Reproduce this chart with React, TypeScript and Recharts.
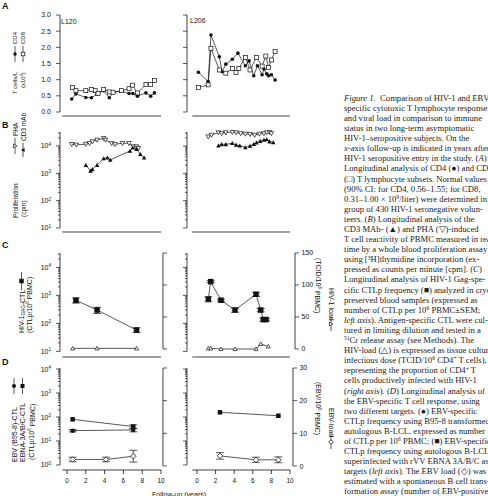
import React from 'react'
import { ComposedChart, Scatter, XAxis, YAxis, ErrorBar, ReferenceLine } from 'recharts'

// Follow-up in years after seropositive entry, two subjects (L120, L206)

// (A) T cell subsets, x10^9 cells/L
const L120_CD4_YEARS = [0.5, 0.95, 2.0, 2.6, 3.2, 3.9, 4.5, 4.9, 5.8, 6.6, 7.0, 7.5, 8.4, 8.9, 9.3]
const L120_CD4 = [0.4, 0.56, 0.45, 0.44, 0.55, 0.66, 0.44, 0.6, 0.65, 0.57, 0.57, 0.49, 0.59, 0.49, 0.59]
const L120_CD8_YEARS = [0.6, 0.95, 2.0, 2.6, 3.0, 3.3, 3.9, 4.5, 4.9, 5.8, 6.6, 6.95, 7.5, 8.4, 8.9, 9.3]
const L120_CD8 = [0.76, 0.66, 0.66, 0.7, 0.66, 0.57, 0.7, 0.62, 0.61, 0.66, 0.72, 0.83, 0.59, 0.85, 0.85, 0.97]
const L206_CD4_YEARS = [0.15, 1.2, 1.5, 2.4, 2.7, 3.1, 3.8, 4.4, 5.2, 5.6, 6.1, 6.5, 7.0, 7.2, 7.5, 7.7, 8.0, 8.4]
const L206_CD4 = [1.23, 0.94, 2.38, 1.71, 1.25, 1.48, 1.63, 1.82, 1.43, 1.58, 1.12, 1.43, 1.15, 1.33, 1.18, 1.12, 1.15, 0.99]
const L206_CD8_YEARS = [0.15, 1.2, 1.5, 2.4, 3.1, 3.8, 4.2, 4.5, 5.2, 5.7, 6.4, 7.0, 7.4, 7.7, 8.0, 8.4]
const L206_CD8 = [0.76, 0.84, 1.97, 1.3, 1.2, 1.35, 1.22, 1.35, 1.69, 1.3, 1.69, 1.42, 1.73, 1.38, 1.61, 1.87]

// (B) whole blood proliferation, cpm
const L120_PHA_YEARS = [0.5, 1.0, 2.0, 2.4, 2.7, 3.2, 3.9, 4.1, 4.75, 5.1, 5.9, 6.6, 7.05, 7.4, 7.6]
const L120_PHA = [11500, 11000, 11700, 12600, 14500, 16600, 19000, 16600, 12600, 11500, 12600, 12600, 9500, 9500, 8300]
const L120_CD3_YEARS = [2.0, 2.5, 2.7, 3.2, 3.9, 4.3, 4.6, 6.7, 7.0, 7.4, 7.8, 8.2]
const L120_CD3 = [2000, 1230, 1400, 2000, 3500, 3700, 3100, 6600, 8700, 7600, 5000, 3700]
const L206_PHA_YEARS = [1.2, 1.56, 2.3, 2.65, 3.1, 3.8, 4.2, 4.7, 5.2, 5.7, 6.2, 6.7, 7.2, 7.5, 7.8, 8.0]
const L206_PHA = [21900, 25100, 31000, 28800, 31000, 32000, 30900, 28800, 27500, 26900, 25100, 27500, 28800, 31000, 32000, 28800]
const L206_CD3_YEARS = [2.3, 2.65, 3.1, 3.8, 4.2, 4.6, 5.2, 5.7, 6.1, 6.4, 6.8, 7.2, 7.5, 7.8, 8.2]
const L206_CD3 = [10200, 11500, 11500, 12600, 11000, 10200, 8900, 10000, 11700, 13200, 15100, 16600, 17400, 14500, 13500]

// (C) HIV-1 Gag CTLp per 10^6 PBMC (+-SEM) and HIV-1 load
const L120_GAG_YEARS = [0.95, 3.2, 7.4]
const L120_GAG = [670, 300, 58]
const L120_GAG_SEM = [140, 75, 11]
const L120_HIV_YEARS = [0.6, 3.2, 7.4]
const L120_HIV = [1, 1, 1]
const L206_GAG_YEARS = [1.22, 1.47, 2.58, 4.09, 6.35, 6.85, 7.13, 7.42]
const L206_GAG = [740, 3100, 670, 300, 1100, 300, 137, 137]
const L206_GAG_SEM = [150, 250, 60, 50, 180, 40, 20, 15]
const L206_HIV_YEARS = [1.22, 1.47, 2.58, 4.09, 6.35, 6.85, 7.67]
const L206_HIV = [1, 1, 0, 0, 0, 8, 4]

// (D) EBV-specific CTLp and EBV load
const L120_EBNA_YEARS = [0.6, 7.05]
const L120_EBNA = [80, 40]
const L120_EBNA_SEM = [0, 7]
const L120_B958_YEARS = [0.6, 7.05]
const L120_B958 = [27, 29]
const L120_B958_SEM = [3, 5]
const L120_EBV_YEARS = [0.6, 4.15, 7.05]
const L120_EBV = [2.0, 2.0, 3.0]
const L120_EBV_SEM = [0.7, 0.7, 1.8]
const L206_EBNA_YEARS = [2.47, 8.75]
const L206_EBNA = [157, 113]
const L206_EBV_YEARS = [2.47, 6.34, 8.75]
const L206_EBV = [3.1, 1.9, 1.9]
const L206_EBV_SEM = [1.0, 0.8, 0.9]

const YEAR_TICKS = [0, 2, 4, 6, 8, 10]
const CD_TICKS = [0, 0.5, 1, 1.5, 2, 2.5, 3]
const HIV_LOAD_TICKS = [0, 50, 100, 150]
const EBV_LOAD_TICKS = [0, 10, 20, 30]

const INK = '#111'
const SANS = '"Liberation Sans", Arial, sans-serif'
const SERIF = '"Liberation Serif", "Times New Roman", serif'

type Pt = { x: number; y: number; e: number }
type MarkKind = 'dot' | 'square' | 'openSquare' | 'triangle' | 'openTriangle' | 'openTriangleDown' | 'openDiamond'

interface Series {
  data: Pt[]
  mark: MarkKind
  size: number
  axis?: 'left' | 'right'
  err?: boolean
}

interface AxisSpec {
  domain: [number, number]
  ticks: number[]
  line: [number, number]
  log?: boolean
  labels?: boolean
  fmt?: (v: number) => string
}

function zip(xs: number[], ys: number[], es?: number[]): Pt[] {
  return xs.map((x, i) => ({ x, y: ys[i], e: es ? es[i] : 0 }))
}

// decades plus 2..9 minor ticks between lo and hi
function logTicks(lo: number, hi: number): number[] {
  const out: number[] = []
  for (let k = Math.floor(Math.log10(lo)); k <= Math.ceil(Math.log10(hi)); k++) {
    for (let m = 1; m <= 9; m++) {
      const v = m * Math.pow(10, k)
      if (v >= lo * 0.999 && v <= hi) out.push(v)
    }
  }
  return out
}

function markShape(kind: MarkKind, s: number) {
  return (p: any) => {
    const { cx, cy } = p
    if (cx == null || cy == null) return <g />
    const h = s / 2
    switch (kind) {
      case 'dot':
        return <circle cx={cx} cy={cy} r={h} fill={INK} />
      case 'square':
        return <rect x={cx - h} y={cy - h} width={s} height={s} fill={INK} />
      case 'openSquare':
        return <rect x={cx - h} y={cy - h} width={s} height={s} fill="#fff" stroke={INK} strokeWidth={0.7} />
      case 'triangle':
        return <polygon points={`${cx},${cy - h} ${cx + h},${cy + h * 0.8} ${cx - h},${cy + h * 0.8}`} fill={INK} />
      case 'openTriangle':
        return (
          <polygon
            points={`${cx},${cy - h} ${cx + h},${cy + h * 0.8} ${cx - h},${cy + h * 0.8}`}
            fill="#fff"
            stroke={INK}
            strokeWidth={0.7}
          />
        )
      case 'openTriangleDown':
        return (
          <polygon
            points={`${cx},${cy + h} ${cx + h},${cy - h * 0.8} ${cx - h},${cy - h * 0.8}`}
            fill="#fff"
            stroke={INK}
            strokeWidth={0.7}
          />
        )
      case 'openDiamond':
        return (
          <polygon
            points={`${cx},${cy - h} ${cx + h},${cy} ${cx},${cy + h} ${cx - h},${cy}`}
            fill="#fff"
            stroke={INK}
            strokeWidth={0.8}
          />
        )
    }
  }
}

function AxisTick(props: any) {
  const { x, y, payload, side, spec } = props
  const v: number = payload.value
  const dir = side === 'left' ? -1 : 1
  const ax = x - dir * 6 // tickSize 4 + tickMargin 2
  const exp = Math.log10(v)
  const major = spec.log ? Math.abs(exp - Math.round(exp)) < 1e-6 : true
  const len = major ? 4 : 2
  let label: React.ReactNode = null
  if (spec.labels && major) {
    const tx = ax + dir * (side === 'left' ? 9 : 6.5)
    const content = spec.log ? (
      <>
        10
        <tspan dy={-2.6} fontSize={4.6}>
          {Math.round(exp)}
        </tspan>
      </>
    ) : spec.fmt ? (
      spec.fmt(v)
    ) : (
      String(v)
    )
    label = (
      <text x={tx} y={y + 2.5} textAnchor={side === 'left' ? 'end' : 'start'} fontSize={7} fill={INK} fontFamily={SANS}>
        {content}
      </text>
    )
  }
  return (
    <g>
      <line x1={ax} y1={y} x2={ax + dir * len} y2={y} stroke={INK} strokeWidth={0.7} />
      {label}
    </g>
  )
}

function renderSeries(s: Series, i: number) {
  return (
    <Scatter
      key={i}
      data={s.data}
      yAxisId={s.axis ?? 'left'}
      shape={markShape(s.mark, s.size)}
      line={{ stroke: INK, strokeWidth: 0.7 }}
      lineType="joint"
      isAnimationActive={false}
    >
      {s.err ? <ErrorBar dataKey="e" direction="y" width={4} stroke={INK} strokeWidth={0.7} /> : null}
    </Scatter>
  )
}

interface Column {
  plotLeft: number
  xMin: number
  ppy: number
  lw: number
  rw: number
}

const LEFT_COL: Column = { plotLeft: 60, xMin: -0.745, ppy: 9.4, lw: 30, rw: 8 }
const RIGHT_COL: Column = { plotLeft: 187, xMin: -1.075, ppy: 9.3, lw: 12, rw: 24 }

interface PanelProps {
  col: Column
  xMax: number
  top: number
  plotH: number
  xLabels?: boolean
  y: AxisSpec
  right?: AxisSpec
  series: Series[]
}

function Panel({ col, xMax, top, plotH, xLabels, y, right, series }: PanelProps) {
  const plotW = (xMax - col.xMin) * col.ppy
  const MT = 6
  const XH = 16
  const RW = right ? col.rw : 0
  const MR = right ? 0 : 8
  const axisStroke = { stroke: INK, strokeWidth: 0.8 }
  return (
    <div style={{ position: 'absolute', left: col.plotLeft - col.lw, top: top - MT }}>
      <ComposedChart
        width={col.lw + plotW + RW + MR}
        height={MT + plotH + XH}
        margin={{ top: MT, right: MR, bottom: 0, left: 0 }}
      >
        <XAxis
          type="number"
          dataKey="x"
          domain={[col.xMin, xMax]}
          ticks={YEAR_TICKS}
          interval={0}
          height={XH}
          axisLine={false}
          tickLine={axisStroke}
          tickSize={4}
          tickMargin={4}
          tick={xLabels ? { fontSize: 6.5, fill: INK, fontFamily: SANS } : false}
        />
        <YAxis
          yAxisId="left"
          type="number"
          dataKey="y"
          scale={y.log ? 'log' : 'linear'}
          domain={y.domain}
          ticks={y.ticks}
          interval={0}
          width={col.lw}
          axisLine={false}
          tickLine={false}
          tickSize={4}
          tickMargin={2}
          tick={(p: any) => <AxisTick {...p} side="left" spec={y} />}
        />
        {right && (
          <YAxis
            yAxisId="right"
            orientation="right"
            type="number"
            dataKey="y"
            domain={right.domain}
            ticks={right.ticks}
            interval={0}
            width={RW}
            axisLine={false}
            tickLine={false}
            tickSize={4}
            tickMargin={2}
            tick={(p: any) => <AxisTick {...p} side="right" spec={right} />}
          />
        )}
        {/* axis lines drawn separately so they stop short of each other */}
        <ReferenceLine
          yAxisId="left"
          segment={[
            { x: -0.5, y: y.domain[0] },
            { x: 10, y: y.domain[0] },
          ]}
          {...axisStroke}
          ifOverflow="visible"
        />
        <ReferenceLine
          yAxisId="left"
          segment={[
            { x: col.xMin, y: y.line[0] },
            { x: col.xMin, y: y.line[1] },
          ]}
          {...axisStroke}
          ifOverflow="visible"
        />
        {right && (
          <ReferenceLine
            yAxisId="right"
            segment={[
              { x: xMax, y: right.line[0] },
              { x: xMax, y: right.line[1] },
            ]}
            {...axisStroke}
            ifOverflow="visible"
          />
        )}
        {series.map(renderSeries)}
      </ComposedChart>
    </div>
  )
}

// axis specs per row
const A_AXIS = (labels: boolean): AxisSpec => ({
  domain: [-0.124, 3],
  ticks: CD_TICKS,
  line: [0, 3],
  labels,
  fmt: (v) => v.toFixed(1),
})
const B_AXIS = (labels: boolean): AxisSpec => ({
  domain: [7.14, 32500],
  ticks: logTicks(10, 32500),
  line: [10, 32500],
  log: true,
  labels,
})
const C_AXIS = (labels: boolean): AxisSpec => ({
  domain: [6.3, 32660],
  ticks: logTicks(10, 32660),
  line: [10, 32660],
  log: true,
  labels,
})
const C_RIGHT = (labels: boolean): AxisSpec => ({
  domain: [-12.5, 150],
  ticks: HIV_LOAD_TICKS,
  line: [0, 150],
  labels,
})
const D_AXIS = (labels: boolean): AxisSpec => ({
  domain: [0.619, 11015],
  ticks: logTicks(1, 11015),
  line: [1, 11015],
  log: true,
  labels,
})
const D_RIGHT = (labels: boolean): AxisSpec => ({
  domain: [-1.22, 30],
  ticks: EBV_LOAD_TICKS,
  line: [0, 30],
  labels,
})

function Rot({ x, y, angle, size = 7, anchor = 'start', children }: any) {
  return (
    <text
      x={x}
      y={y}
      transform={`rotate(${angle} ${x} ${y})`}
      textAnchor={anchor}
      dominantBaseline="central"
      fontSize={size}
      fill={INK}
      fontFamily={SANS}
    >
      {children}
    </text>
  )
}

// small legend sample: line with a marker, turned with the axis title
function Key({ x, y, len, angle, mark, size }: any) {
  return (
    <g transform={`rotate(${angle} ${x} ${y})`}>
      <line x1={x - len / 2} y1={y} x2={x + len / 2} y2={y} stroke={INK} strokeWidth={0.7} />
      {markShape(mark, size)({ cx: x, cy: y })}
    </g>
  )
}

function Sup({ children }: any) {
  return <tspan dy={-2.3} fontSize="0.65em">{children}</tspan>
}

function Annotations() {
  const letter = { fontSize: 9, fontWeight: 700, fontFamily: SANS, fill: INK }
  return (
    <svg width={488} height={496} style={{ position: 'absolute', left: 0, top: 0 }}>
      <text x={2} y={9} {...letter}>A</text>
      <text x={2} y={128} {...letter}>B</text>
      <text x={2} y={248} {...letter}>C</text>
      <text x={2} y={365} {...letter}>D</text>

      <text x={61} y={24} fontSize={7} fontFamily={SANS} fill={INK}>L120</text>
      <text x={190} y={23} fontSize={7} fontFamily={SANS} fill={INK}>L206</text>

      {/* A */}
      <Rot x={15} y={94} angle={-90} size={6}>T cells/L</Rot>
      <Rot x={23} y={88} angle={-90} size={6}>
        (x10<Sup>9</Sup>
        <tspan dy={2.3}>)</tspan>
      </Rot>
      <Key x={15} y={54} len={16} angle={-90} mark="dot" size={3.4} />
      <Key x={23} y={54} len={16} angle={-90} mark="openSquare" size={3.6} />
      <Rot x={15} y={44} angle={-90} size={6}>CD4</Rot>
      <Rot x={23} y={44} angle={-90} size={6}>CD8</Rot>

      {/* B */}
      <Rot x={15} y={218} angle={-90} size={6.5}>Proliferation</Rot>
      <Rot x={23} y={217} angle={-90} size={6.5}>(cpm)</Rot>
      <Key x={15} y={146} len={16} angle={-90} mark="openTriangleDown" size={4} />
      <Key x={23} y={150} len={14} angle={-90} mark="triangle" size={4} />
      <Rot x={15} y={136} angle={-90} size={6.5}>PHA</Rot>
      <Rot x={23} y={141} angle={-90} size={6.5}>CD3 mAb</Rot>

      {/* C */}
      <Rot x={21.5} y={333} angle={-90}>
        HIV-1
        <tspan dy={1.6} fontSize={4.6}>GAG</tspan>
        <tspan dy={-1.6}>-CTL</tspan>
      </Rot>
      <Key x={21.5} y={281} len={18} angle={-90} mark="square" size={4.5} />
      <Rot x={29} y={333} angle={-90}>
        (CTLp/10<Sup>6</Sup>
        <tspan dy={2.3}> PBMC)</tspan>
      </Rot>
      <Rot x={318} y={258} angle={90}>
        (TCID/10<Sup>6</Sup>
        <tspan dy={2.3}> PBMC)</tspan>
      </Rot>
      <Rot x={331} y={288} angle={90}>HIV-1 load</Rot>
      <Key x={331} y={324} len={14} angle={90} mark="openTriangle" size={4} />

      {/* D */}
      <Rot x={14} y={462} angle={-90}>EBV (B95-8)-CTL</Rot>
      <Rot x={22.5} y={462} angle={-90}>EBNA-3A/B/C-CTL</Rot>
      <Rot x={31.5} y={460} angle={-90}>
        (CTLp/10<Sup>6</Sup>
        <tspan dy={2.3}> PBMC)</tspan>
      </Rot>
      <Key x={14} y={386} len={16} angle={-90} mark="dot" size={4} />
      <Key x={22.5} y={386} len={16} angle={-90} mark="square" size={4} />
      <Rot x={318} y={382} angle={90}>
        (EBV/10<Sup>6</Sup>
        <tspan dy={2.3}> PBMC)</tspan>
      </Rot>
      <Rot x={331} y={408} angle={90}>EBV-load</Rot>
      <Key x={331} y={442} len={14} angle={90} mark="openDiamond" size={4.5} />

      <text x={152} y={497} fontSize={7} fontFamily={SANS} fill={INK}>Follow-up (years)</text>
    </svg>
  )
}

function S({ children }: any) {
  return <span style={{ fontSize: '0.65em', position: 'relative', top: '-0.5em' }}>{children}</span>
}

const CAPTION_LINES: React.ReactNode[] = [
  <><i>Figure 1.</i>{'\u2002'}Comparison of HIV-1 and EBV-</>,
  <>specific cytotoxic T lymphocyte responses</>,
  <>and viral load in comparison to immune</>,
  <>status in two long-term asymptomatic</>,
  <>HIV-1–seropositive subjects. On the</>,
  <><i>x</i>-axis follow-up is indicated in years after</>,
  <>HIV-1 seropositive entry in the study. (<i>A</i>)</>,
  <>Longitudinal analysis of CD4 (●) and CD8</>,
  <>(□) T lymphocyte subsets. Normal values</>,
  <>(90% CI: for CD4, 0.56–1.55; for CD8,</>,
  <>0.31–1.00 × 10<S>9</S>/liter) were determined in a</>,
  <>group of 430 HIV-1 seronegative volun-</>,
  <>teers. (<i>B</i>) Longitudinal analysis of the</>,
  <>CD3 MAb- (▲) and PHA (▽)-induced</>,
  <>T cell reactivity of PBMC measured in real</>,
  <>time by a whole blood proliferation assay</>,
  <>using [<S>3</S>H]thymidine incorporation (ex-</>,
  <>pressed as counts per minute [cpm]. (<i>C</i>)</>,
  <>Longitudinal analysis of HIV-1 Gag-spe-</>,
  <>cific CTLp frequency (■) analyzed in cryo-</>,
  <>preserved blood samples (expressed as</>,
  <>number of CTLp per 10<S>6</S> PBMC±SEM;</>,
  <><i>left axis</i>). Antigen-specific CTL were cul-</>,
  <>tured in limiting dilution and tested in a</>,
  <><S>51</S>Cr release assay (see Methods). The</>,
  <>HIV-load (△) is expressed as tissue culture</>,
  <>infectious dose (TCID/10<S>6</S> CD4<S>+</S> T cells),</>,
  <>representing the proportion of CD4<S>+</S> T</>,
  <>cells productively infected with HIV-1</>,
  <>(<i>right axis</i>). (<i>D</i>) Longitudinal analysis of</>,
  <>the EBV-specific T cell response, using</>,
  <>two different targets. (●) EBV-specific</>,
  <>CTLp frequency using B95-8 transformed</>,
  <>autologous B-LCL, expressed as number</>,
  <>of CTLp per 10<S>6</S> PBMC; (■) EBV-specific</>,
  <>CTLp frequency using autologous B-LCL</>,
  <>superinfected with rVV EBNA 3A/B/C as</>,
  <>targets (<i>left axis</i>). The EBV load (◇) was</>,
  <>estimated with a spontaneous B cell trans-</>,
  <>formation assay (number of EBV-positive</>,
  <>B cells per 10<S>6</S> PBMC; <i>right axis</i>).</>,
]

function Caption() {
  return (
    <div
      style={{
        position: 'absolute',
        left: 344,
        top: 92.8,
        fontFamily: SERIF,
        fontSize: 8.65,
        color: '#1a1a1a',
      }}
    >
      {CAPTION_LINES.map((line, i) => (
        <div key={i} style={{ height: 10.1, lineHeight: '10.1px', whiteSpace: 'nowrap' }}>
          {line}
        </div>
      ))}
    </div>
  )
}

export default function App() {
  return (
    <div
      style={{
        position: 'fixed',
        left: 0,
        top: 0,
        width: 488,
        height: 496,
        overflow: 'hidden',
        background: '#fff',
      }}
    >
      {/* A: T cell subsets */}
      <Panel
        col={LEFT_COL}
        xMax={10}
        top={15}
        plotH={101}
        y={A_AXIS(true)}
        series={[
          { data: zip(L120_CD4_YEARS, L120_CD4), mark: 'dot', size: 3.6 },
          { data: zip(L120_CD8_YEARS, L120_CD8), mark: 'openSquare', size: 4 },
        ]}
      />
      <Panel
        col={RIGHT_COL}
        xMax={10}
        top={15}
        plotH={101}
        y={A_AXIS(false)}
        series={[
          { data: zip(L206_CD4_YEARS, L206_CD4), mark: 'dot', size: 3.6 },
          { data: zip(L206_CD8_YEARS, L206_CD8), mark: 'openSquare', size: 4 },
        ]}
      />

      {/* B: proliferation */}
      <Panel
        col={LEFT_COL}
        xMax={10}
        top={132}
        plotH={100}
        y={B_AXIS(true)}
        series={[
          { data: zip(L120_PHA_YEARS, L120_PHA), mark: 'openTriangleDown', size: 4.5 },
          { data: zip(L120_CD3_YEARS, L120_CD3), mark: 'triangle', size: 4.5 },
        ]}
      />
      <Panel
        col={RIGHT_COL}
        xMax={10}
        top={132}
        plotH={100}
        y={B_AXIS(false)}
        series={[
          { data: zip(L206_PHA_YEARS, L206_PHA), mark: 'openTriangleDown', size: 4.5 },
          { data: zip(L206_CD3_YEARS, L206_CD3), mark: 'triangle', size: 4.5 },
        ]}
      />

      {/* C: HIV-1 Gag CTLp and HIV-1 load */}
      <Panel
        col={LEFT_COL}
        xMax={10.21}
        top={253}
        plotH={104}
        y={C_AXIS(true)}
        right={C_RIGHT(false)}
        series={[
          { data: zip(L120_HIV_YEARS, L120_HIV), mark: 'openTriangle', size: 4, axis: 'right' },
          { data: zip(L120_GAG_YEARS, L120_GAG, L120_GAG_SEM), mark: 'square', size: 5.5, err: true },
        ]}
      />
      <Panel
        col={RIGHT_COL}
        xMax={10.54}
        top={253}
        plotH={104}
        y={C_AXIS(false)}
        right={C_RIGHT(true)}
        series={[
          { data: zip(L206_HIV_YEARS, L206_HIV), mark: 'openTriangle', size: 4, axis: 'right' },
          { data: zip(L206_GAG_YEARS, L206_GAG, L206_GAG_SEM), mark: 'square', size: 5.5, err: true },
        ]}
      />

      {/* D: EBV-specific CTLp and EBV load */}
      <Panel
        col={LEFT_COL}
        xMax={10.21}
        top={368}
        plotH={102}
        xLabels
        y={D_AXIS(true)}
        right={D_RIGHT(false)}
        series={[
          { data: zip(L120_EBV_YEARS, L120_EBV, L120_EBV_SEM), mark: 'openDiamond', size: 5.5, axis: 'right', err: true },
          { data: zip(L120_EBNA_YEARS, L120_EBNA, L120_EBNA_SEM), mark: 'square', size: 4.5, err: true },
          { data: zip(L120_B958_YEARS, L120_B958, L120_B958_SEM), mark: 'dot', size: 4.5, err: true },
        ]}
      />
      <Panel
        col={RIGHT_COL}
        xMax={10.32}
        top={368}
        plotH={102}
        xLabels
        y={D_AXIS(false)}
        right={D_RIGHT(true)}
        series={[
          { data: zip(L206_EBV_YEARS, L206_EBV, L206_EBV_SEM), mark: 'openDiamond', size: 5.5, axis: 'right', err: true },
          { data: zip(L206_EBNA_YEARS, L206_EBNA), mark: 'square', size: 4.5 },
        ]}
      />

      <Annotations />
      <Caption />
    </div>
  )
}
